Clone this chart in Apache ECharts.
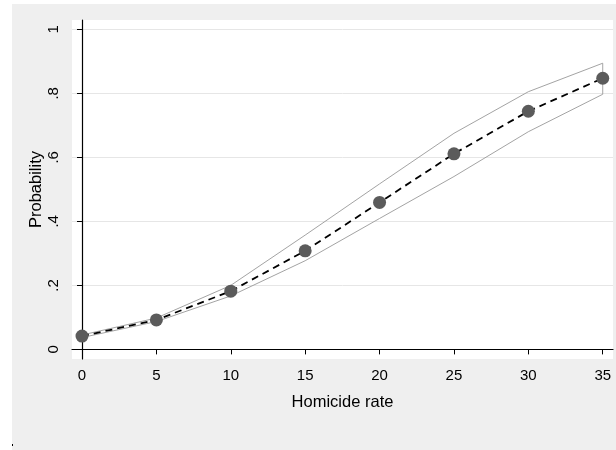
<!DOCTYPE html>
<html>
<head>
<meta charset="utf-8">
<script src="https://cdn.jsdelivr.net/npm/echarts@6/dist/echarts.min.js"></script>
<style>html,body{margin:0;padding:0;background:#fff;}#c{width:616px;height:450px;}</style>
</head>
<body>
<div id="c"></div>
<script>
const homicideRate = [0, 5, 10, 15, 20, 25, 30, 35];
const probability = [0.0416, 0.092, 0.182, 0.308, 0.459, 0.611, 0.744, 0.847];
const upperCI = [0.045, 0.098, 0.200, 0.357, 0.517, 0.675, 0.805, 0.894];
const lowerCI = [0.037, 0.087, 0.167, 0.277, 0.409, 0.540, 0.680, 0.797];
const xTicks = [0, 5, 10, 15, 20, 25, 30, 35];
const yTicks = [0, 0.2, 0.4, 0.6, 0.8, 1];

const ciOutline = [];
homicideRate.forEach((x, i) => ciOutline.push([x, upperCI[i]]));
for (let i = homicideRate.length - 1; i >= 0; i--) ciOutline.push([homicideRate[i], lowerCI[i]]);
ciOutline.push([homicideRate[0], upperCI[0]]);

const font = 'Liberation Sans, Arial, Helvetica, sans-serif';
const chart = echarts.init(document.getElementById('c'), null, {renderer: 'canvas'});
chart.setOption({
  animation: false,
  backgroundColor: '#ffffff',
  graphic: [
    {type: 'rect', shape: {x: 12, y: 4, width: 604, height: 446}, style: {fill: '#efefef'}, z: -10, silent: true},
    {type: 'rect', shape: {x: 12, y: 444, width: 1, height: 2}, style: {fill: '#000'}, z: -9, silent: true}
  ],
  grid: {left: 72, top: 20, right: 3, bottom: 91, show: true, backgroundColor: '#ffffff', borderWidth: 0, z: 0},
  xAxis: {
    type: 'value', min: -0.672, max: 35.69,
    name: 'Homicide rate', nameLocation: 'middle', nameGap: 35, nameMoveOverlap: false,
    nameTextStyle: {fontFamily: font, fontSize: 16.5, color: '#000'},
    axisLine: {show: true, lineStyle: {color: '#000', width: 1.2}},
    axisTick: {show: true, length: 5, customValues: xTicks, lineStyle: {color: '#000'}},
    axisLabel: {customValues: xTicks, fontFamily: font, fontSize: 15, color: '#000', margin: 9},
    splitLine: {show: false}
  },
  yAxis: {
    type: 'value', min: -0.03, max: 1.029,
    name: 'Probability', nameLocation: 'middle', nameGap: 27, nameMoveOverlap: false,
    nameTextStyle: {fontFamily: font, fontSize: 16.5, color: '#000'},
    axisLine: {show: true, lineStyle: {color: '#000', width: 1.2}},
    axisTick: {show: true, length: 5, customValues: yTicks, lineStyle: {color: '#000'}},
    axisLabel: {customValues: yTicks, rotate: 90, fontFamily: font, fontSize: 15, color: '#000', margin: 11,
      formatter: v => { if (v === 0) return '0'; if (v === 1) return '1'; return String(Math.round(v * 10) / 10).replace(/^0/, ''); }},
    splitLine: {show: true, lineStyle: {color: '#e6e6e6', width: 1}}
  },
  series: [
    {type: 'line', data: ciOutline, symbol: 'none', lineStyle: {color: '#999999', width: 0.9}, silent: true, z: 2},
    {type: 'line', data: homicideRate.map((x, i) => [x, probability[i]]), symbol: 'circle', symbolSize: 13,
      itemStyle: {color: '#5b5b5b'}, lineStyle: {color: '#000', width: 1.8, type: [7, 5]}, z: 3}
  ]
});
</script>
</body>
</html>
